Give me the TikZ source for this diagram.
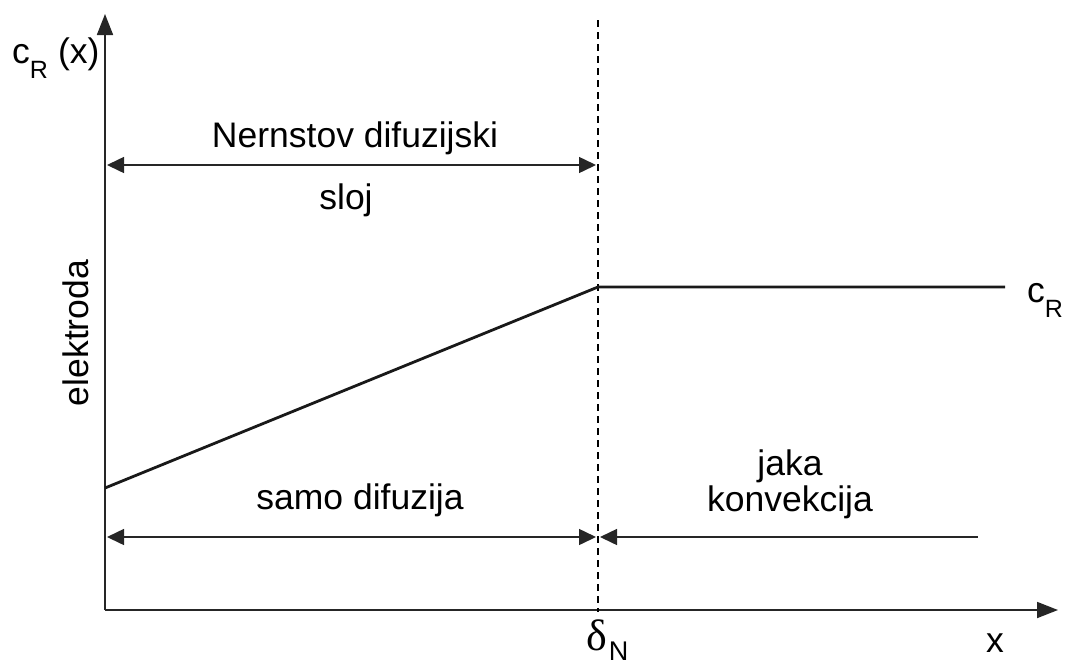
\documentclass[tikz,border=0pt]{standalone}
\usepackage{fontspec}
\setmainfont{Liberation Sans}
\newfontfamily\grk{Liberation Serif}
\usetikzlibrary{arrows.meta}
\tikzset{
  lbl/.style={inner sep=0pt, font=\fontsize{35.5}{42}\selectfont, text=black},
  axis/.style={line width=1.8pt, draw=black!85, -{Triangle[length=21pt,width=16pt]}},
  dim/.style={line width=1.5pt, draw=black!85},
  dimtip/.tip={Triangle[length=17pt,width=16pt]},
  curve/.style={line width=2.8pt, draw=black!90},
  guide/.style={line width=1.8pt, draw=black, dash pattern=on 7pt off 5pt}
}
\begin{document}
\begin{tikzpicture}[x=1pt,y=-1pt]
\useasboundingbox (0,0) rectangle (1067,664);
% coordinates
\coordinate (O) at (105,610);
\coordinate (Ytop) at (105,14);
\coordinate (Xend) at (1058,610);
\coordinate (Dtop) at (598,20);
\coordinate (Dbot) at (598,612);
\coordinate (P0) at (105,488);
\coordinate (P1) at (598,287);
\coordinate (P2) at (1005,287);
\coordinate (Ta) at (107,165);
\coordinate (Tb) at (596,165);
\coordinate (Ba) at (107,537);
\coordinate (Bb) at (596,537);
\coordinate (Bc) at (600,537);
\coordinate (Bd) at (978,537);
% axes
\draw[axis] (O) -- (Ytop);
\draw[axis] (O) -- (Xend);
% dashed
\draw[guide] (Dtop) -- (Dbot);
% concentration profile
\draw[curve] (P0) -- (P1) -- (P2);
% dimension arrows
\draw[dim, dimtip-dimtip] (Ta) -- (Tb);
\draw[dim, dimtip-dimtip] (Ba) -- (Bb);
\draw[dim, dimtip-] (Bc) -- (Bd);
% labels
\node[lbl, anchor=base west] (cRx) at (12,63) {c\raisebox{-15pt}{\fontsize{25}{28}\selectfont R}\hspace{10pt}(x)};
\node[lbl] (nern) at (355,138) {Nernstov difuzijski};
\node[lbl] (sloj) at (346,200) {sloj};
\node[lbl, rotate=90] (elek) at (76,333) {elektroda};
\node[lbl, anchor=base west] (cR) at (1027,302) {c\raisebox{-15pt}{\fontsize{25}{28}\selectfont R}};
\node[lbl] (samo) at (360,500) {samo difuzija};
\node[lbl] (jaka) at (790,466) {jaka};
\node[lbl] (konv) at (790,502) {konvekcija};
\node[lbl, anchor=base west] (delta) at (586,650) {{\grk\fontsize{44}{46}\selectfont δ}\hspace{2pt}\raisebox{-10pt}{\fontsize{27}{28}\selectfont N}};
\node[lbl, anchor=base] (xl) at (995,652) {x};
\end{tikzpicture}
\end{document}
